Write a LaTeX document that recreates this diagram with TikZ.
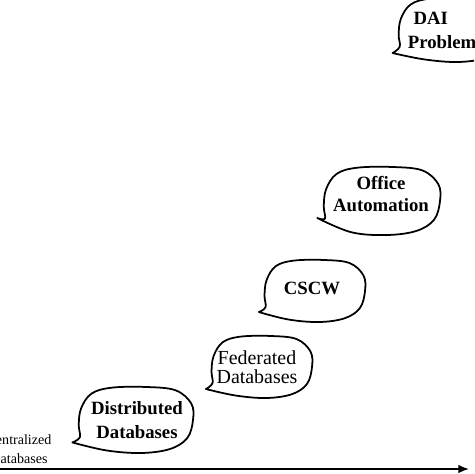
\documentclass[tikz,border=0pt]{standalone}
\usepackage{fontspec}
\setmainfont{Liberation Serif}
\usetikzlibrary{arrows.meta,calc}
\tikzset{
  bubbleline/.style={line width=1.5pt, line join=round, line cap=round},
  bubtext/.style={inner sep=0pt, align=center, font=\fontsize{16}{20.4}\bfseries\selectfont},
  axisline/.style={line width=1.5pt, -{Latex[length=3.2mm,width=2.6mm]}},
}
\newcommand\mybubble[5]{%
  \begin{scope}[shift={($(#1)+(#2)$)}, xscale=#3, yscale=#4]
    \draw[bubbleline] plot[smooth, tension=0.6] coordinates {
      (-1.08,#5) (-0.95,0.52) (-0.97,0.15) (-0.93,-0.35) (-0.75,-0.8)
      (-0.4,-0.98) (0.2,-1.0) (0.7,-0.9) (0.97,-0.5) (1.0,0)
      (0.9,0.55) (0.6,0.88) (0.1,1.0) (-0.5,0.92) (-1.08,#5)};
  \end{scope}}
\begin{document}
\begin{tikzpicture}[x=0.03cm, y=-0.03cm]
  \useasboundingbox (0,0) rectangle (474,474);
  \clip (0,0) rectangle (474,474);
  % axis
  \coordinate (axstart) at (-5,469);
  \coordinate (axend) at (469,469);
  \draw[axisline] (axstart) -- (axend);
  % labels
  \node[inner sep=0pt, align=center, font=\fontsize{12}{16}\selectfont] (central) at (19,449) {Centralized\\Databases};
  \node[bubtext] (dist) at (137,420) {Distributed\\Databases};
  \node[bubtext, font=\fontsize{17}{16.5}\selectfont] (fed) at (257,367) {Federated\\Databases};
  \node[bubtext] (cscw) at (312,288) {CSCW};
  \node[bubtext, font=\fontsize{16}{18.7}\bfseries\selectfont] (office) at (381,194) {Office\\Automation};
  \node[bubtext, align=left] (dai) at (442,30) {\hspace{5pt}DAI\\Problem};
  % bubbles
  \mybubble{dist}{-2,0}{58}{33}{0.68}
  \mybubble{fed}{4,0}{51}{31}{0.71}
  \mybubble{cscw}{2,3}{51}{31}{0.68}
  \mybubble{office}{0,7}{59}{34}{0.5}
  \mybubble{dai}{10,0}{55}{32}{0.72}
\end{tikzpicture}
\end{document}
